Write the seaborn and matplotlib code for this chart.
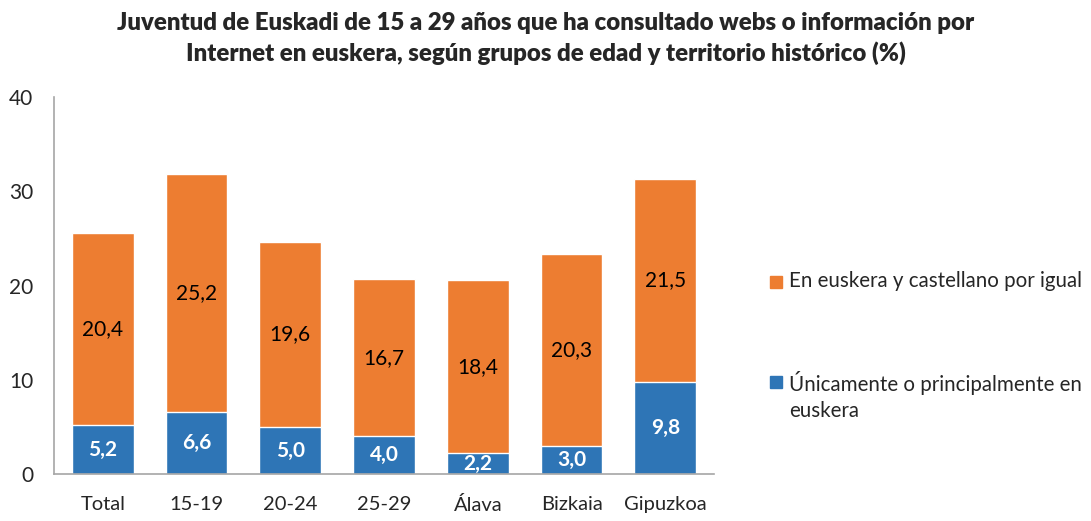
import matplotlib
matplotlib.use("Agg")
import matplotlib.pyplot as plt
import seaborn as sns
import pandas as pd
from matplotlib.patches import Rectangle

# --- DATA ---
categories = ["Total", "15-19", "20-24", "25-29", "Álava", "Bizkaia", "Gipuzkoa"]
solo_euskera = [5.2, 6.6, 5.0, 4.0, 2.2, 3.0, 9.8]
igual = [20.4, 25.2, 19.6, 16.7, 18.4, 20.3, 21.5]
label_igual = "En euskera y castellano por igual"
label_euskera = "Únicamente o principalmente en\neuskera"
title = ("Juventud de Euskadi de 15 a 29 años que ha consultado webs o información por\n"
         "Internet en euskera, según grupos de edad y territorio histórico (%)")

orange = "#ED7D31"
blue = "#2E75B6"

df = pd.DataFrame({"cat": categories, "euskera": solo_euskera, "igual": igual})
df["total"] = df["euskera"] + df["igual"]

sns.set_style("white")
plt.rcParams["font.family"] = ["Lato", "DejaVu Sans"]

fig = plt.figure(figsize=(10.91, 5.21), dpi=100)
ax = fig.add_axes([0.0495, 0.090, 0.605, 0.724])

# stacked: total bar in orange, euskera bar drawn over it from 0
sns.barplot(data=df, x="cat", y="total", color=orange, width=0.66,
            saturation=1, ax=ax)
sns.barplot(data=df, x="cat", y="euskera", color=blue, width=0.66,
            saturation=1, ax=ax)

fmt = lambda v: f"{v:.1f}".replace(".", ",")
for i, (b, o) in enumerate(zip(solo_euskera, igual)):
    ax.text(i, b / 2, fmt(b), ha="center", va="center", color="white",
            fontsize=15, fontweight="bold")
    ax.text(i, b + o / 2, fmt(o), ha="center", va="center", color="black",
            fontsize=15)

ax.set_ylim(0, 40)
ax.set_yticks([0, 10, 20, 30, 40])
ax.set_xlim(-0.52, 6.52)
ax.set_xlabel("")
ax.set_ylabel("")
ax.tick_params(axis="x", length=0, pad=16, labelsize=14.5)
ax.tick_params(axis="y", length=0, pad=15, labelsize=15)
for s in ["top", "right"]:
    ax.spines[s].set_visible(False)
for s in ["left", "bottom"]:
    ax.spines[s].set_color("#A6A6A6")
    ax.spines[s].set_linewidth(1.2)

fig.text(0.5, 1 - 38.5 / 521, title, ha="center", va="center", fontsize=17.3,
         fontweight="heavy", linespacing=1.4)

# legend (orange entry on top, blue below)
W, H = 1091, 521
for (y, col, lab) in [(282, orange, label_igual), (382, blue, label_euskera)]:
    fig.patches.append(Rectangle((770 / W, 1 - (y + 6) / H), 12 / W, 12 / H,
                                 transform=fig.transFigure, color=col))
    fig.text(789 / W, 1 - (y - 11) / H, lab, ha="left", va="top",
             fontsize=14.8, linespacing=1.35)

fig.savefig("out.png", dpi=100)
